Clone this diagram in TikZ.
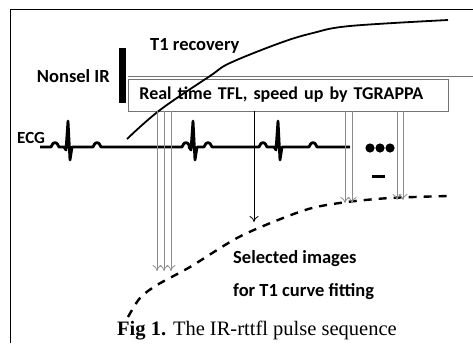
\documentclass[tikz,border=0pt]{standalone}
\usepackage{fontspec}
\setmainfont{Liberation Serif}
\newfontfamily\labelfont{Carlito}
\usepackage{tikz}
\usetikzlibrary{arrows.meta}
\tikzstyle{lbl}=[inner sep=0pt,font=\labelfont\bfseries\fontsize{18.5}{20}\selectfont]
\tikzstyle{pulse}=[fill=black,inner sep=0pt,minimum width=7pt,minimum height=55pt]
\tikzstyle{tflbox}=[draw=black!55,line width=0.8pt,inner xsep=11pt,inner ysep=0pt,minimum height=32pt,text width=298pt,align=left,font=\labelfont\bfseries\fontsize{18}{20}\selectfont]
\tikzstyle{ecg}=[line width=2.8pt,line join=round]
\tikzstyle{readout}=[draw=black!45,line width=0.8pt,-{To[length=6pt,width=9pt]}]
\tikzstyle{fitcurve}=[line width=2.4pt,dash pattern=on 8pt off 7pt]

\begin{document}
\begin{tikzpicture}[x=1pt,y=-1pt]
        \useasboundingbox (0,0) rectangle (473,343);
        \draw [line width=1pt] (10,343) -- (10,9) -- (473,9);

        % labels and pulse
        \node at (110,82) [lbl,anchor=base east] (irlbl) {Nonsel IR};
        \node at (122.5,75.5) [pulse] (ir) {};
        \node at (150,50) [lbl,anchor=base west] (t1lbl) {T1 recovery};
        \node at (17,143) [lbl,anchor=base west,font=\labelfont\bfseries\fontsize{17}{19}\selectfont] (ecglbl) {ECG};
        \draw [draw=black!55,line width=0.8pt] (128,76) -- (473,76);
        \node at (128,95) [tflbox,anchor=west] (tfl) {Real time TFL, speed up by TGRAPPA};

        % T1 recovery curve
        \draw [line width=1.8pt] plot[smooth,tension=0.6] coordinates {(127,139) (160,110) (210,76) (230,63) (280,43) (313,33) (350,26) (448,20)};

        % ecg trace
        \draw [ecg] (40,147)
          \foreach \p/\r/\t in {55/68/97,186/193/208,263/278/313} {
            -- ({\p-4},147) .. controls ({\p-2},141) and ({\p+2},141) .. ({\p+4},147)
            -- ({\r-4},147) -- ({\r-2},150) -- (\r,121) -- ({\r+2},160) -- ({\r+4},147)
            -- ({\t-4},147) .. controls ({\t-2},141) and ({\t+2},141) .. ({\t+4},147)
          } -- (350,147);
        \foreach \x in {370,380,390}
          \fill (\x,148) circle (4.6);
        \draw [line width=3pt] (372,176) -- (385,176);

        % fitted curve
        \draw [fitcurve] plot[smooth] coordinates {(128,317) (140,298) (157,285) (190,267) (237,238) (278,220) (312,208) (347,202) (390,198) (448,196)};

        % selected images
        \coordinate (a1) at (157,271);
        \coordinate (a2) at (164,271);
        \coordinate (a3) at (171,271);
        \coordinate (b) at (254,222);
        \coordinate (c1) at (345,203);
        \coordinate (c2) at (352,203);
        \coordinate (d1) at (397,200);
        \coordinate (d2) at (403,200);
        \foreach \e in {a1,a2,a3,c1,c2,d1,d2}
          \draw [readout] (tfl.south -| \e) -- (\e);
        \draw [readout,draw=black] (tfl.south -| b) -- (b);

        \node at (233,263) [lbl,anchor=base west] (sel) {Selected images};
        \node at (233,296) [lbl,anchor=base west] (fit) {for T1 curve fitting};

        \node at (117,335) [anchor=base west,inner sep=0pt,font=\fontsize{20.5}{22}\selectfont] (cap) {\textbf{Fig 1.} The IR-rttfl pulse sequence};
\end{tikzpicture}
\end{document}
